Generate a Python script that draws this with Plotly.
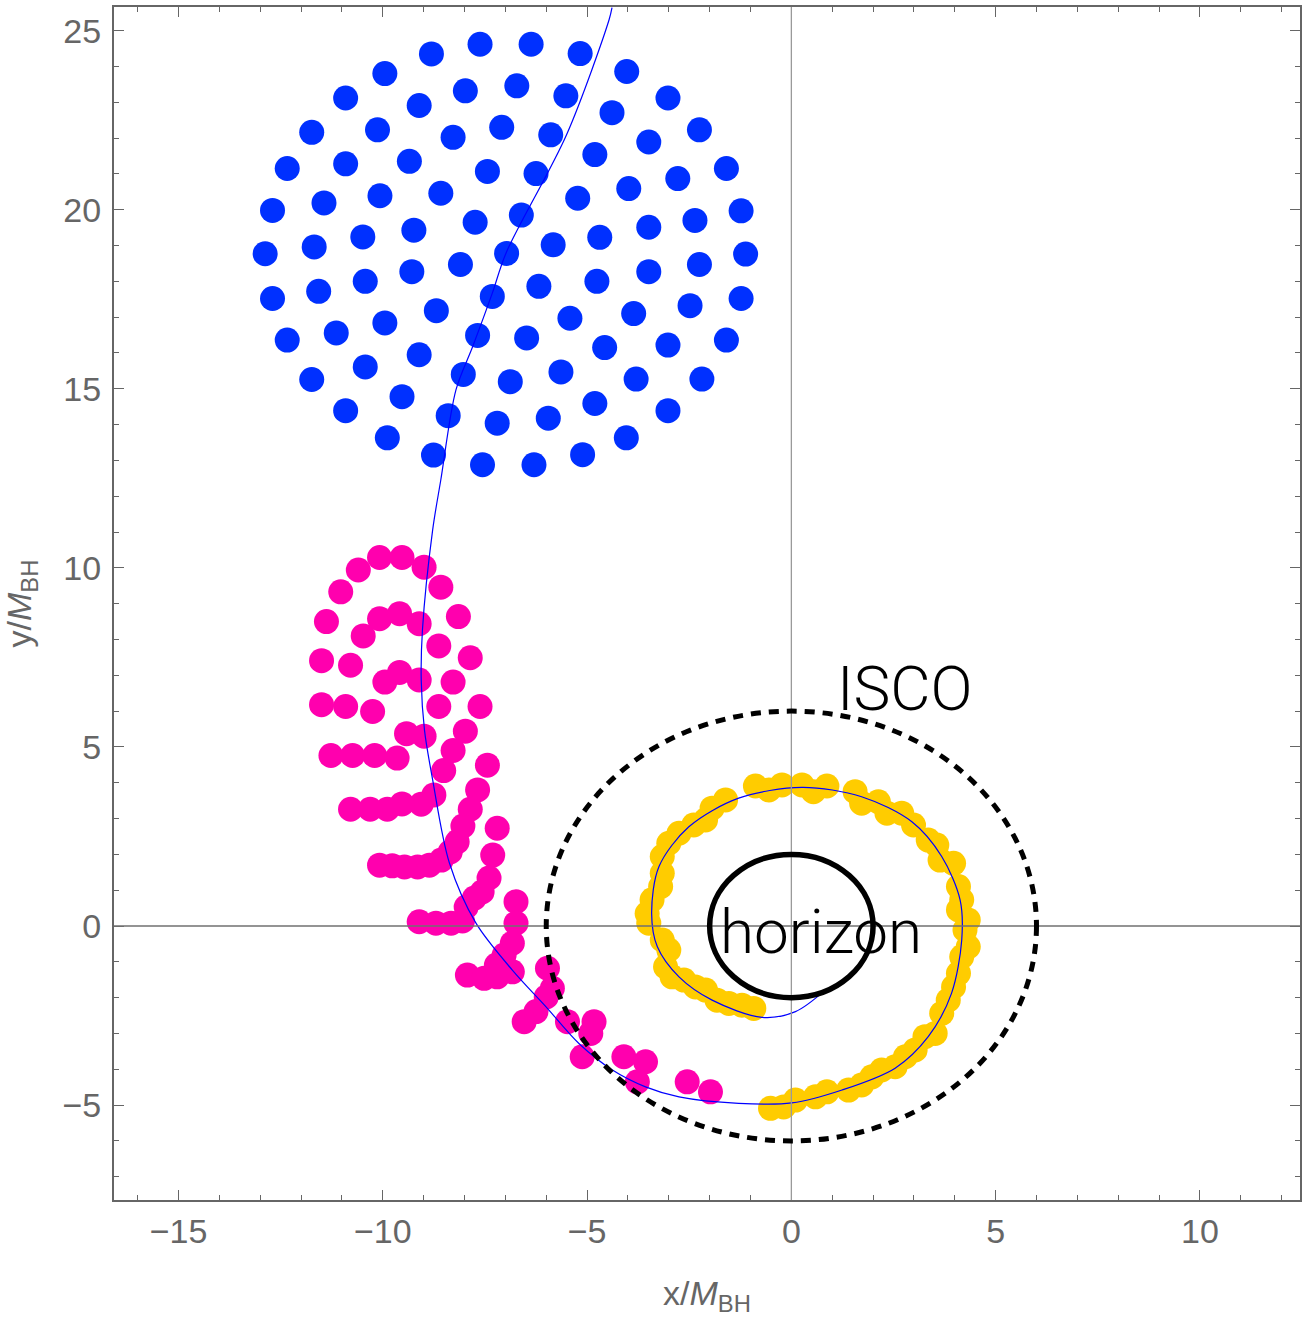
import plotly.graph_objects as go

# ---- particle positions (units of M_BH) ----
# initial star: blue particle cloud
star_x = [-7.62, -6.37, -8.81, -5.17, -4.03, -9.95, -6.72, -7.98, -5.52, -10.91,
          -3.02, -9.11, -4.39, -7.09, -10.13, -2.25, -11.74, -5.89, -8.28, -3.49,
          -4.81, -9.35, -10.91, -12.34, -1.59, -7.44, -6.25, -2.78, -3.98, -8.58,
          -10.07, -5.23, -11.44, -12.70, -1.23, -6.61, -2.36, -7.74, -3.49, -9.24,
          -4.69, -10.49, -5.83, -11.68, -6.97, -12.88, -1.12, -8.10, -2.25, -9.29,
          -3.49, -10.43, -4.76, -6.18, -11.57, -7.32, -12.70, -1.23, -2.48, -8.69,
          -3.86, -5.42, -9.95, -11.14, -7.68, -6.48, -12.34, -1.59, -3.02, -4.57,
          -9.11, -10.43, -5.64, -8.03, -11.74, -3.80, -2.19, -6.88, -9.53, -4.81,
          -10.91, -3.02, -8.40, -5.95, -7.20, -9.89, -4.04, -8.76, -5.11, -7.56,
          -6.30]
star_y = [24.62, 24.62, 24.35, 24.36, 23.86, 23.80, 23.46, 23.32, 23.18, 23.12,
          23.12, 22.91, 22.71, 22.30, 22.23, 22.23, 22.16, 22.09, 22.02, 21.89,
          21.54, 21.35, 21.28, 21.15, 21.15, 21.07, 21.01, 20.87, 20.59, 20.46,
          20.39, 20.32, 20.19, 19.98, 19.97, 19.85, 19.70, 19.65, 19.51, 19.43,
          19.23, 19.24, 19.02, 18.96, 18.78, 18.77, 18.76, 18.47, 18.47, 18.27,
          18.27, 18.00, 18.00, 17.86, 17.72, 17.58, 17.52, 17.52, 17.32, 17.18,
          17.10, 16.97, 16.84, 16.56, 16.49, 16.42, 16.36, 16.36, 16.22, 16.15,
          15.95, 15.61, 15.47, 15.40, 15.26, 15.27, 15.27, 15.20, 14.78, 14.59,
          14.39, 14.39, 14.25, 14.18, 14.04, 13.63, 13.63, 13.15, 13.16, 12.88,
          12.88]

# tidally stretched debris: magenta particles
debris_x = [-11.50, -11.50, -11.38, -11.03, -10.60, -10.08, -9.53, -8.99, -8.58, -8.15,
            -7.86, -7.62, -7.44, -7.20, -10.91, -10.79, -10.48, -10.08, -9.59, -9.11,
            -8.63, -8.28, -7.98, -7.68, -7.86, -8.04, -10.25, -9.95, -9.59, -9.11,
            -8.63, -8.28, -8.51, -8.75, -9.06, -9.53, -9.89, -10.31, -10.79, -11.27,
            -10.74, -10.20, -9.65, -9.42, -8.99, -10.08, -9.77, -9.47, -9.15, -8.86,
            -8.57, -8.35, -8.18, -7.31, -7.40, -7.57, -7.76, -7.96, -9.11, -8.70,
            -8.33, -8.05, -6.74, -6.74, -6.83, -7.03, -7.22, -7.93, -7.52, -7.20,
            -6.83, -5.97, -5.85, -6.00, -6.25, -6.54, -5.48, -4.83, -4.91, -5.12,
            -4.10, -3.57, -3.77, -2.55, -1.98]
debris_y = [6.18, 7.41, 8.50, 9.33, 9.94, 10.29, 10.29, 10.02, 9.46, 8.64,
            7.49, 6.13, 4.49, 2.73, 6.13, 7.28, 8.10, 8.58, 8.72, 8.44,
            7.82, 6.81, 5.44, 3.80, 3.26, 2.79, 5.99, 6.81, 7.08, 6.87,
            6.13, 4.90, 4.34, 3.66, 3.40, 3.41, 3.26, 3.26, 3.26, 4.76,
            4.76, 4.76, 4.69, 5.37, 5.30, 1.70, 1.68, 1.65, 1.65, 1.70,
            1.84, 2.07, 2.35, 1.98, 1.34, 0.95, 0.78, 0.53, 0.12, 0.08,
            0.08, 0.14, 0.68, 0.08, -0.48, -0.81, -1.09, -1.37, -1.46, -1.42,
            -1.28, -1.18, -1.74, -1.98, -2.39, -2.67, -2.67, -2.67, -3.00, -3.65,
            -3.65, -3.79, -4.35, -4.35, -4.63]

# material circularising inside the ISCO: yellow particles
disk_x = [-0.88, -0.55, -0.23, 0.26, 0.54, 0.87, 1.56, 1.72, 2.13, 2.34,
          2.70, 2.99, 3.35, 3.56, 3.64, 3.97, 4.09, 4.17, 4.09, 4.33,
          4.25, 4.33, 4.17, 4.09, 3.97, 3.84, 3.68, 3.52, 3.27, 3.03,
          2.79, 2.54, 2.21, 1.97, 1.72, 1.40, 0.87, 0.59, 0.10, -0.19,
          -0.51, -1.61, -1.94, -2.10, -2.39, -2.75, -3.00, -3.16, -3.16, -3.20,
          -3.41, -3.53, -3.49, -3.16, -3.00, -3.08, -2.92, -2.63, -2.35, -2.10,
          -1.82, -1.53, -1.21, -0.92]
disk_y = [3.91, 3.80, 3.94, 3.94, 3.75, 3.91, 3.75, 3.43, 3.47, 3.15,
          3.15, 2.82, 2.40, 2.26, 1.84, 1.75, 1.10, 0.73, 0.45, 0.17,
          -0.11, -0.58, -0.86, -1.32, -1.70, -2.07, -2.44, -3.00, -3.09, -3.46,
          -3.65, -3.93, -4.02, -4.21, -4.44, -4.58, -4.63, -4.77, -4.86, -5.05,
          -5.09, 3.52, 3.29, 2.96, 2.82, 2.59, 2.31, 1.94, 1.47, 1.10,
          0.73, 0.35, 0.08, -0.39, -0.67, -1.14, -1.42, -1.51, -1.70, -1.79,
          -2.07, -2.16, -2.21, -2.30]

# orbit of the stellar centre of mass
traj_x = [-4.39, -4.46, -5.50, -6.98, -7.32, -7.80, -8.21, -8.58, -8.78, -9.03,
          -9.06, -8.98, -8.78, -8.37, -7.72, -6.83, -6.01, -5.20, -4.38, -3.57,
          -2.75, -1.29, 0.01, 1.24, 2.54, 3.35, 3.92, 4.17, 4.13, 3.68,
          2.95, 1.72, 0.26, -1.29, -2.51, -3.24, -3.42, -3.28, -2.75, -1.94,
          -0.72, 0.10, 0.83]
traj_y = [25.64, 25.31, 22.10, 18.80, 17.67, 16.18, 14.97, 12.46, 11.06, 8.27,
          6.87, 5.47, 4.08, 1.76, 0.08, -1.23, -2.25, -3.28, -4.02, -4.49,
          -4.77, -4.95, -4.94, -4.58, -3.97, -3.09, -1.88, -0.39, 0.73, 1.94,
          2.91, 3.61, 3.87, 3.57, 2.77, 1.66, 0.35, -0.58, -1.42, -2.07,
          -2.55, -2.39, -1.79]

# characteristic radii
r_isco = 6.0
r_horizon = 2.0

x_range = [-16.58, 12.45]
y_range = [-7.65, 25.66]
x_ticks = [-15, -10, -5, 0, 5, 10]
y_ticks = [-5, 0, 5, 10, 15, 20, 25]

AXIS_GRAY = "#666666"
TICK_FONT = dict(family="Liberation Sans, Arial, sans-serif", size=34, color=AXIS_GRAY)
TITLE_FONT = dict(family="Liberation Sans, Arial, sans-serif", size=34, color=AXIS_GRAY)
LABEL_FONT = dict(family="Roboto, Liberation Sans, sans-serif", size=62, color="black", weight=300)

fig = go.Figure()

dot = dict(size=25, line=dict(width=0))
fig.add_trace(go.Scatter(x=star_x, y=star_y, mode="markers",
                         marker=dict(color="#0030ff", **dot), hoverinfo="skip"))
fig.add_trace(go.Scatter(x=debris_x, y=debris_y, mode="markers",
                         marker=dict(color="#ff00ae", **dot), hoverinfo="skip"))
fig.add_trace(go.Scatter(x=disk_x, y=disk_y, mode="markers",
                         marker=dict(color="#ffcc00", **dot), hoverinfo="skip"))
fig.add_trace(go.Scatter(x=traj_x, y=traj_y, mode="lines",
                         line=dict(color="#0000ff", width=1.2, shape="spline", smoothing=0.9),
                         hoverinfo="skip"))

# coordinate axes through the origin, drawn over the particles
fig.add_shape(type="line", xref="x", yref="paper", x0=0, x1=0, y0=0, y1=1,
              line=dict(color="#9a9a9a", width=1.3), layer="above")
fig.add_shape(type="line", xref="paper", yref="y", x0=0, x1=1, y0=0, y1=0,
              line=dict(color="#707070", width=1.3), layer="above")

# ISCO (dashed) and horizon (solid)
fig.add_shape(type="circle", xref="x", yref="y",
              x0=-r_isco, x1=r_isco, y0=-r_isco, y1=r_isco,
              line=dict(color="black", width=5, dash="10px,8px"), layer="above")
fig.add_shape(type="circle", xref="x", yref="y",
              x0=-r_horizon, x1=r_horizon, y0=-r_horizon, y1=r_horizon,
              line=dict(color="black", width=5.5), layer="above")

fig.add_annotation(x=2.79, y=6.62, text="ISCO", showarrow=False,
                   xanchor="center", yanchor="middle", font=LABEL_FONT)
fig.add_annotation(x=0.73, y=-0.16, text="horizon", showarrow=False,
                   xanchor="center", yanchor="middle", font=LABEL_FONT)

axis_common = dict(
    showgrid=False, zeroline=False,
    showline=True, linecolor=AXIS_GRAY, linewidth=2, mirror="ticks",
    ticks="inside", ticklen=10, tickwidth=1.4, tickcolor=AXIS_GRAY,
    minor=dict(dtick=1, ticks="inside", ticklen=5, tickwidth=1.2,
               tickcolor=AXIS_GRAY, showgrid=False),
    tickfont=TICK_FONT, layer="above traces",
)

fig.update_xaxes(range=x_range, tickvals=x_ticks, ticklabelstandoff=0,
                 title=dict(text="x/<i>M</i><sub>BH</sub>", standoff=32, font=TITLE_FONT),
                 **axis_common)
fig.update_yaxes(range=y_range, tickvals=y_ticks, ticklabelstandoff=4,
                 title=dict(text="y/<i>M</i><sub>BH</sub>", standoff=24, font=TITLE_FONT),
                 **axis_common)

fig.update_layout(
    width=1302, height=1318,
    margin=dict(l=114, r=0, t=7, b=118),
    paper_bgcolor="white", plot_bgcolor="white",
    showlegend=False,
)

fig.write_html("out.html")
